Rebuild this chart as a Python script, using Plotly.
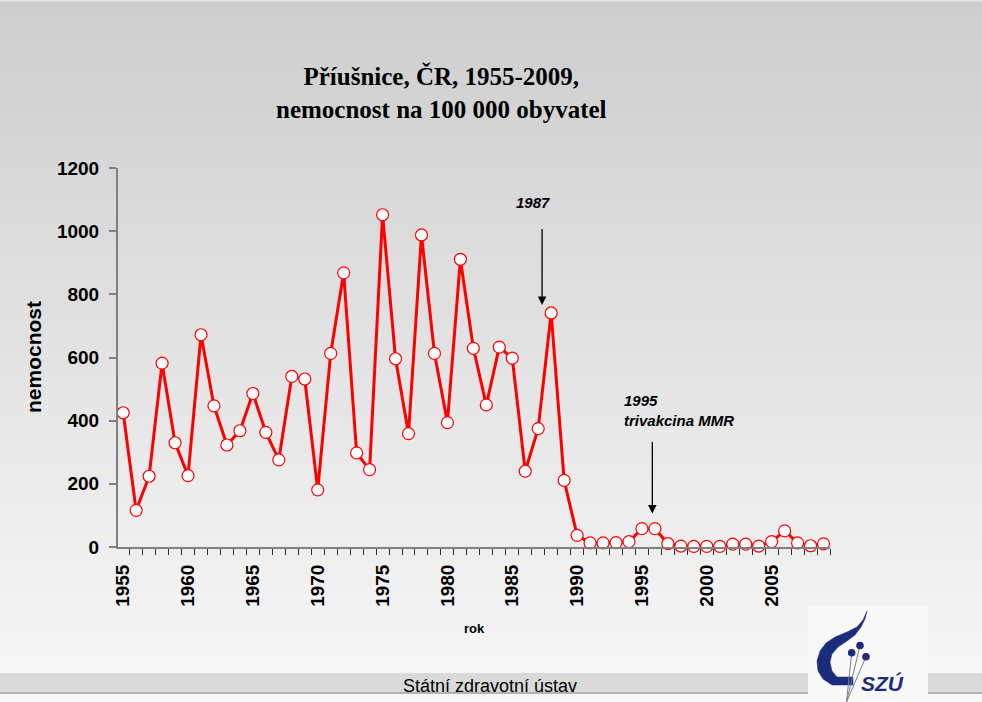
import plotly.graph_objects as go

# ---------------- data ----------------
years = list(range(1955, 2010))
incidence = [425, 116, 224, 582, 330, 226, 672, 447, 323, 368,
             486, 363, 276, 540, 532, 181, 613, 868, 298, 245,
             1052, 596, 359, 988, 613, 394, 911, 629, 450, 633,
             598, 240, 375, 741, 211, 37, 13, 13, 14, 17,
             58, 58, 11, 3, 2, 2, 2, 9, 9, 3,
             17, 51, 13, 4, 10]
x_tick_vals = [1955, 1960, 1965, 1970, 1975, 1980, 1985, 1990, 1995, 2000, 2005]
x_tick_text = [str(v) for v in x_tick_vals]
y_tick_vals = [0, 200, 400, 600, 800, 1000, 1200]

title_lines = ["Příušnice, ČR, 1955-2009,", "nemocnost na 100 000 obyvatel"]
y_title = "nemocnost"
x_title = "rok"
footer_text = "Státní zdravotní ústav"
logo_text = "SZÚ"

ann1_text = "1987"
ann2_text = "1995<br>trivakcina MMR"

# ---------------- geometry ----------------
W, H = 982, 702
L, R, T, B = 118, 152, 168, 155
PW = W - L - R
PH = H - T - B

def px(x):
    return (x - L) / PW

def py(y):
    return (H - B - y) / PH

FONT = "Liberation Sans, Arial, sans-serif"
SERIF = "Liberation Serif, Times New Roman, serif"
NAVY = "#1c2c7c"

shapes = []
# background vertical gradient
n = 70
for i in range(n):
    y0 = i * H / n
    y1 = (i + 1) * H / n + 0.6
    t = (i + 0.5) / n
    c = int(round(205 + (248 - 205) * t))
    shapes.append(dict(type="rect", xref="paper", yref="paper", layer="below",
                       x0=px(0), x1=px(W), y0=py(y0), y1=py(y1),
                       fillcolor=f"rgb({c},{c},{c})", line=dict(width=0)))
shapes.append(dict(type="rect", xref="paper", yref="paper", layer="below",
                   x0=px(0), x1=px(W), y0=py(0), y1=py(1.5),
                   fillcolor="#e2e2e2", line=dict(width=0)))
# footer bands
for x0, x1 in [(0, 808), (928, W)]:
    shapes.append(dict(type="rect", xref="paper", yref="paper", layer="below",
                       x0=px(x0), x1=px(x1), y0=py(693), y1=py(673),
                       fillcolor="#dadada", line=dict(width=0)))
    shapes.append(dict(type="line", xref="paper", yref="paper", layer="below",
                       x0=px(x0), x1=px(x1), y0=py(693), y1=py(693),
                       line=dict(color="#a0a0a0", width=1.5)))
# logo background
shapes.append(dict(type="rect", xref="paper", yref="paper", layer="below",
                   x0=px(808), x1=px(928), y0=py(702), y1=py(605),
                   fillcolor="#f8f8f8", line=dict(width=0)))

def path_px(pts):
    s = "M " + " L ".join(f"{px(a):.5f},{py(b):.5f}" for a, b in pts) + " Z"
    return s

# logo crescent
crescent_pts = [(867, 611), (863, 620), (857, 627), (847, 632), (835, 637), (826, 643),
                (820, 651), (817, 661), (818, 671), (823, 679), (832, 685), (853, 685),
                (853, 677), (837, 677), (832, 671), (830, 662), (832, 654), (838, 647),
                (847, 641), (855, 635), (861, 627), (865, 619)]
shapes.append(dict(type="path", xref="paper", yref="paper", path=path_px(crescent_pts),
                   fillcolor=NAVY, line=dict(color=NAVY, width=0.5)))
dots = [(860, 645.5), (851.7, 652.7), (866, 656.7)]
# stems
for (dx, dy) in dots:
    shapes.append(dict(type="line", xref="paper", yref="paper",
                       x0=px(dx), y0=py(dy), x1=px(846.5), y1=py(702),
                       line=dict(color="#7a7c98", width=1)))
for (dx, dy) in dots:
    shapes.append(dict(type="circle", xref="paper", yref="paper",
                       x0=px(dx - 3.8), x1=px(dx + 3.8), y0=py(dy - 3.8), y1=py(dy + 3.8),
                       fillcolor=NAVY, line=dict(color=NAVY, width=0)))

fig = go.Figure()
fig.add_trace(go.Scatter(
    x=years, y=incidence, mode="lines+markers",
    line=dict(color="#ff0000", width=3),
    marker=dict(size=12, color="white", line=dict(color="#ff0000", width=1.2)),
    hoverinfo="x+y", showlegend=False, cliponaxis=False))

annotations = [
    dict(text=f"<b>{title_lines[0]}</b><br><b>{title_lines[1]}</b>",
         xref="paper", yref="paper", x=px(441), y=py(92), xanchor="center", yanchor="middle",
         showarrow=False, font=dict(family=SERIF, size=25, color="black"), align="center"),
    dict(text=f"<b>{y_title}</b>", xref="paper", yref="paper", x=px(33), y=py(357),
         textangle=-90, showarrow=False, xanchor="center", yanchor="middle",
         font=dict(family=FONT, size=21, color="black")),
    dict(text=f"<b>{x_title}</b>", xref="paper", yref="paper", x=px(474), y=py(628),
         showarrow=False, xanchor="center", yanchor="middle",
         font=dict(family=FONT, size=13, color="black")),
    dict(text=footer_text, xref="paper", yref="paper", x=px(490), y=py(686),
         showarrow=False, xanchor="center", yanchor="middle",
         font=dict(family=FONT, size=18, color="black")),
    dict(text=f"<b><i>{logo_text}</i></b>", xref="paper", yref="paper", x=px(882), y=py(683),
         showarrow=False, xanchor="center", yanchor="middle",
         font=dict(family=FONT, size=21, color=NAVY)),
    # event labels
    dict(text=f"<b><i>{ann1_text}</i></b>", x=1986.6, y=1090, xref="x", yref="y",
         showarrow=False, xanchor="center", yanchor="middle",
         font=dict(family=FONT, size=15, color="black")),
    dict(text=f"<b><i>{ann2_text}</i></b>", x=1993.45, y=498, xref="x", yref="y",
         showarrow=False, xanchor="left", yanchor="top", align="left",
         font=dict(family=FONT, size=15, color="black")),
    # arrows
    dict(text="", x=1987.3, y=766, ax=1987.3, ay=1012, xref="x", yref="y",
         axref="x", ayref="y", showarrow=True, arrowhead=2, arrowsize=1.3,
         arrowwidth=1.3, arrowcolor="black", standoff=0),
    dict(text="", x=1995.8, y=106, ax=1995.8, ay=338, xref="x", yref="y",
         axref="x", ayref="y", showarrow=True, arrowhead=2, arrowsize=1.3,
         arrowwidth=1.3, arrowcolor="black", standoff=0),
]

fig.update_layout(
    width=W, height=H,
    margin=dict(l=L, r=R, t=T, b=B, autoexpand=False),
    paper_bgcolor="white", plot_bgcolor="rgba(0,0,0,0)",
    shapes=shapes, annotations=annotations,
    font=dict(family=FONT, color="black"),
    xaxis=dict(range=[1954.6, 2009.5], showgrid=False, zeroline=False,
               showline=True, linecolor="#808080", linewidth=2,
               tickmode="array", tickvals=x_tick_vals, ticktext=x_tick_text,
               ticks="", tickangle=-90, ticklabelstandoff=8,
               tickfont=dict(family=FONT, size=19, color="black", weight="bold"),
               minor=dict(ticks="outside", tick0=1954.5, dtick=1, ticklen=6,
                          tickcolor="#303030", tickwidth=1.2, showgrid=False)),
    yaxis=dict(range=[0, 1200], showgrid=False, zeroline=False,
               showline=True, linecolor="#808080", linewidth=2,
               tickmode="array", tickvals=y_tick_vals,
               ticks="outside", ticklen=7, tickcolor="#808080", tickwidth=1.5,
               ticklabelstandoff=6,
               tickfont=dict(family=FONT, size=19, color="black", weight="bold")),
)

fig.write_html("out.html", config={"displayModeBar": False},
               post_script="document.body.style.margin='0';")
